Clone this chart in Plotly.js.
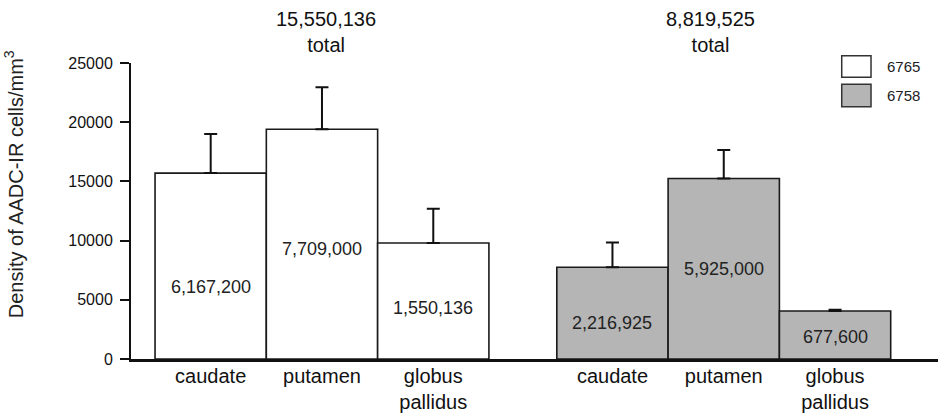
<!DOCTYPE html>
<html>
<head>
<meta charset="utf-8">
<script src="https://cdn.plot.ly/plotly-3.0.1.min.js"></script>
<style>html,body{margin:0;padding:0;background:#fff;}#chart{width:938px;height:416px;}</style>
</head>
<body>
<div id="chart"></div>
<script>
// ---- data ----
var categories = ["caudate", "putamen", "globus<br>pallidus"];
var seriesNames = ["6765", "6758"];
var density6765 = [15700, 19400, 9800];
var error6765 = [3300, 3550, 2900];
var density6758 = [7750, 15250, 4050];
var error6758 = [2100, 2400, 120];
var cellCounts6765 = ["6,167,200", "7,709,000", "1,550,136"];
var cellCounts6758 = ["2,216,925", "5,925,000", "677,600"];
var totals = ["15,550,136", "8,819,525"];
var yTickVals = [0, 5000, 10000, 15000, 20000, 25000];

// ---- layout config ----
var groupOffset = 3.61;
var labelFrac = [[0.39, 0.48, 0.44], [0.39, 0.50, 0.46]];
var totalShift = [4, -13];
var FONT = "Liberation Sans, Arial, Helvetica, sans-serif";
var fills = ["#ffffff", "#b5b5b5"];
var outline = "#1a1a1a";

var groups = [
  {name: seriesNames[0], y: density6765, err: error6765, counts: cellCounts6765},
  {name: seriesNames[1], y: density6758, err: error6758, counts: cellCounts6758}
];

var traces = [];
var annotations = [];
var tickvals = [], ticktext = [];
groups.forEach(function (g, gi) {
  var xs = categories.map(function (c, i) { return i + gi * groupOffset; });
  xs.forEach(function (x, i) { tickvals.push(x); ticktext.push(categories[i]); });
  traces.push({
    type: "bar", name: g.name, x: xs, y: g.y, width: 1,
    marker: {color: fills[gi], line: {color: outline, width: 1.6}},
    error_y: {type: "data", symmetric: false, array: g.err,
      arrayminus: g.y.map(function () { return 0; }),
      color: "#111", thickness: 2, width: 6.5},
    showlegend: false, hoverinfo: "x+y"
  });
  g.counts.forEach(function (t, i) {
    annotations.push({x: xs[i], y: g.y[i] * labelFrac[gi][i], xref: "x", yref: "y",
      xanchor: "center", yanchor: "middle",
      text: t, showarrow: false, font: {family: FONT, size: 18, color: "#222"}});
  });
  annotations.push({x: xs[1], y: 1.106, xref: "x", yref: "paper", xshift: totalShift[gi],
    xanchor: "center", yanchor: "middle",
    text: totals[gi] + "<br>total", showarrow: false,
    font: {family: FONT, size: 20, color: "#111"}});
});

// y-axis title
annotations.push({x: -0.146, y: 0.591, xref: "paper", yref: "paper",
  xanchor: "center", yanchor: "middle",
  text: "Density of AADC-IR cells/mm<sup>3</sup>", textangle: -90, showarrow: false,
  font: {family: FONT, size: 20, color: "#222"}});

// legend (manual)
var shapes = [];
var legY = [[1.0247, 0.9517], [0.928, 0.852]];
seriesNames.forEach(function (n, i) {
  shapes.push({type: "rect", xref: "paper", yref: "paper", x0: 0.8807, x1: 0.917,
    y0: legY[i][1], y1: legY[i][0], fillcolor: fills[i],
    line: {color: "#333", width: 1.5}});
  annotations.push({x: 0.9343, y: (legY[i][0] + legY[i][1]) / 2, xref: "paper", yref: "paper",
    xanchor: "left", yanchor: "middle", text: n, showarrow: false,
    font: {family: FONT, size: 15, color: "#222"}});
});

var layout = {
  width: 938, height: 416,
  margin: {l: 131, r: 0, t: 63, b: 57, pad: 0},
  paper_bgcolor: "#fff", plot_bgcolor: "#fff",
  font: {family: FONT, color: "#111"},
  bargap: 0,
  xaxis: {range: [-0.716, 6.535], tickvals: tickvals, ticktext: ticktext,
    showline: true, linecolor: "#111", linewidth: 2.5, ticks: "", showgrid: false,
    ticklabelstandoff: -3,
    zeroline: false, tickfont: {family: FONT, size: 20, color: "#111"}, fixedrange: true},
  yaxis: {range: [0, 25000], tickvals: yTickVals, tickformat: "d",
    showline: true, linecolor: "#111", linewidth: 2, ticks: "outside", ticklen: 9,
    tickwidth: 2, tickcolor: "#111", showgrid: false, zeroline: false,
    ticklabelstandoff: 4,
    tickfont: {family: FONT, size: 16, color: "#111"}, fixedrange: true},
  annotations: annotations,
  shapes: shapes,
  showlegend: false
};

Plotly.newPlot("chart", traces, layout, {displayModeBar: false, staticPlot: true});
</script>
</body>
</html>
